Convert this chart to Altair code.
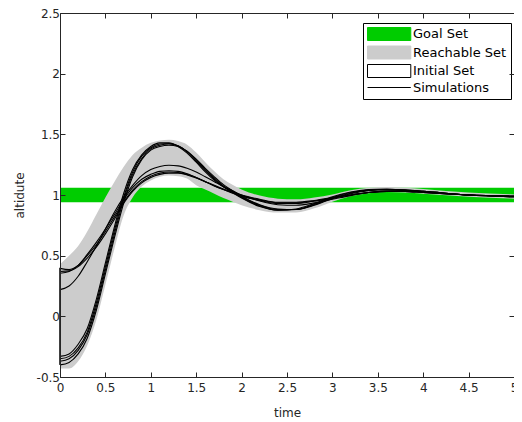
import altair as alt
import pandas as pd

# ---------------- data ----------------
T = [0, 0.1, 0.2, 0.3, 0.4, 0.5, 0.6, 0.7, 0.8, 0.9, 1.0, 1.1, 1.2, 1.3, 1.4, 1.5,
     1.6, 1.7, 1.8, 1.9, 2.0, 2.2, 2.4, 2.6, 2.8, 3.0, 3.2, 3.4, 3.6, 3.8, 4.0, 4.5, 5.0]

A1 = [-0.33, -0.31, -0.23, -0.10, 0.14, 0.44, 0.74, 1.01, 1.21, 1.33, 1.40, 1.43, 1.43, 1.40, 1.345, 1.27,
      1.19, 1.12, 1.065, 1.02, 0.975, 0.905, 0.875, 0.885, 0.93, 0.985, 1.025, 1.045, 1.05, 1.04, 1.03, 1.0, 0.985]
A2 = [-0.35, -0.33, -0.26, -0.13, 0.11, 0.41, 0.71, 0.98, 1.19, 1.32, 1.39, 1.42, 1.425, 1.405, 1.355, 1.28,
      1.20, 1.13, 1.07, 1.025, 0.98, 0.91, 0.875, 0.88, 0.925, 0.98, 1.02, 1.04, 1.045, 1.04, 1.03, 1.0, 0.985]
A3 = [-0.37, -0.35, -0.28, -0.15, 0.08, 0.38, 0.68, 0.96, 1.17, 1.30, 1.38, 1.41, 1.42, 1.405, 1.36, 1.29,
      1.21, 1.14, 1.075, 1.03, 0.985, 0.915, 0.88, 0.88, 0.92, 0.975, 1.015, 1.04, 1.045, 1.04, 1.03, 1.0, 0.985]
A4 = [-0.40, -0.38, -0.31, -0.18, 0.05, 0.35, 0.65, 0.93, 1.15, 1.29, 1.37, 1.40, 1.41, 1.40, 1.36, 1.295,
      1.22, 1.15, 1.085, 1.035, 0.99, 0.92, 0.885, 0.88, 0.915, 0.97, 1.01, 1.035, 1.045, 1.04, 1.03, 1.0, 0.985]
B1 = [0.395, 0.385, 0.42, 0.50, 0.59, 0.70, 0.82, 0.94, 1.04, 1.11, 1.155, 1.18, 1.19, 1.185, 1.17, 1.145,
      1.11, 1.075, 1.045, 1.02, 0.995, 0.96, 0.935, 0.935, 0.95, 0.975, 1.0, 1.02, 1.03, 1.03, 1.02, 1.0, 0.99]
B2 = [0.355, 0.37, 0.42, 0.51, 0.61, 0.72, 0.84, 0.96, 1.06, 1.13, 1.17, 1.195, 1.20, 1.195, 1.175, 1.145,
      1.11, 1.075, 1.045, 1.015, 0.99, 0.955, 0.93, 0.93, 0.95, 0.975, 1.0, 1.02, 1.03, 1.03, 1.02, 1.0, 0.99]
B3 = [0.37, 0.375, 0.41, 0.48, 0.57, 0.68, 0.80, 0.93, 1.03, 1.10, 1.145, 1.17, 1.18, 1.18, 1.165, 1.14,
      1.11, 1.08, 1.05, 1.025, 1.0, 0.965, 0.94, 0.94, 0.955, 0.98, 1.0, 1.02, 1.03, 1.03, 1.02, 1.0, 0.99]
B4 = [0.22, 0.25, 0.33, 0.45, 0.58, 0.72, 0.86, 0.98, 1.08, 1.16, 1.21, 1.235, 1.245, 1.24, 1.22, 1.19,
      1.15, 1.11, 1.07, 1.035, 1.0, 0.95, 0.92, 0.915, 0.935, 0.965, 0.995, 1.02, 1.035, 1.035, 1.025, 1.0, 0.99]

reach_lo = [-0.43, -0.43, -0.37, -0.24, -0.03, 0.26, 0.56, 0.83, 0.98, 1.07, 1.12, 1.15, 1.16, 1.155, 1.135, 1.08,
            1.045, 1.01, 0.975, 0.945, 0.915, 0.875, 0.855, 0.855, 0.89, 0.945, 0.99, 1.015, 1.025, 1.02, 1.01, 0.985, 0.97]
reach_hi = [0.43, 0.50, 0.58, 0.70, 0.84, 0.98, 1.11, 1.23, 1.33, 1.39, 1.43, 1.45, 1.455, 1.445, 1.415, 1.35,
            1.27, 1.195, 1.13, 1.085, 1.045, 0.995, 0.97, 0.965, 0.98, 1.005, 1.04, 1.06, 1.065, 1.06, 1.05, 1.02, 1.005]

goal_lo, goal_hi = 0.94, 1.06
init_lo, init_hi = -0.4, 0.4
t_start, t_end = 0, 5

x_ticks = [0, 0.5, 1, 1.5, 2, 2.5, 3, 3.5, 4, 4.5, 5]
y_ticks = [-0.5, 0, 0.5, 1, 1.5, 2, 2.5]

legend_names = ["Goal Set", "Reachable Set", "Initial Set", "Simulations"]
legend_fill = ["#00cc00", "#cccccc", "#ffffff", "#000000"]
legend_stroke = ["#00cc00", "#cccccc", "#000000", "#000000"]
legend_shape = ["M-1,-1H5.66V1H-1Z", "M-1,-1H5.66V1H-1Z", "M-1,-1H5.66V1H-1Z", "M-1,0H5.66"]

# ---------------- tables ----------------
runs = {"A1": A1, "A2": A2, "A3": A3, "A4": A4, "B1": B1, "B2": B2, "B3": B3, "B4": B4}
sim_df = pd.DataFrame([{"t": t, "y": v, "run": k} for k, vals in runs.items() for t, v in zip(T, vals)])
reach_df = pd.DataFrame({"t": T, "lo": reach_lo, "hi": reach_hi})
goal_df = pd.DataFrame({"x0": [t_start], "x1": [t_end], "lo": [goal_lo], "hi": [goal_hi]})
init_df = pd.DataFrame({"t": [t_start], "lo": [init_lo], "hi": [init_hi]})
legend_df = pd.DataFrame({"name": legend_names, "t": [None] * 4, "y": [None] * 4})

AX = "#262626"
FONT = "DejaVu Sans"
W, H = 454, 364
xs = alt.Scale(domain=[0, 5], nice=False, zero=False)
ys = alt.Scale(domain=[-0.5, 2.5], nice=False, zero=False)

common = dict(tickSize={"expr": "-5"}, tickColor=AX, tickWidth=1, domainColor=AX, domainWidth=1,
              grid=False, zindex=1, labelFont=FONT, labelFontSize=12, labelColor=AX,
              labelFlush=False, labelOverlap=False, labelBound=False,
              titleFont=FONT, titleFontSize=12, titleColor=AX, titleFontWeight="normal")

axis_bottom = alt.Axis(orient="bottom", values=x_ticks, labelPadding=10, labelExpr="'' + datum.value",
                       title="time", titleX=W / 2, titleY=39, titleBaseline="alphabetic", titleAlign="center", **common)
axis_left = alt.Axis(orient="left", values=y_ticks, labelPadding=5.5, labelExpr="'' + datum.value",
                     title="altidute", titleX=-37, titleY=H / 2, titleAngle=270, titleBaseline="alphabetic",
                     titleAlign="center", **common)
axis_top = alt.Axis(orient="top", values=x_ticks, labels=False, title=None, **common)
axis_right = alt.Axis(orient="right", values=y_ticks, labels=False, title=None, **common)

goal = alt.Chart(goal_df).mark_rect(color="#00cc00").encode(
    x=alt.X("x0:Q", scale=xs, axis=axis_bottom), x2="x1:Q",
    y=alt.Y("lo:Q", scale=ys, axis=axis_left), y2="hi:Q")

reach = alt.Chart(reach_df).mark_area(color="#cccccc", interpolate="monotone").encode(
    x=alt.X("t:Q", scale=xs, axis=axis_top),
    y=alt.Y("lo:Q", scale=ys, axis=axis_right), y2="hi:Q")

init = alt.Chart(init_df).mark_rect(fill="#ffffff", stroke="#000000", strokeWidth=1).encode(
    x=alt.X("t:Q", scale=xs, axis=None), x2="t:Q",
    y=alt.Y("lo:Q", scale=ys, axis=None), y2="hi:Q")

sims = alt.Chart(sim_df).mark_line(color="#000000", strokeWidth=1.1, interpolate="monotone").encode(
    x=alt.X("t:Q", scale=xs, axis=None),
    y=alt.Y("y:Q", scale=ys, axis=None),
    detail="run:N")

leg = alt.Legend(title=None, orient="none", legendX=303, legendY=10, strokeColor="#000000",
                 fillColor="#ffffff", padding=4, symbolSize=169, symbolStrokeWidth=1, symbolOpacity=1,
                 labelOffset=32, rowPadding=0.5, labelFont=FONT, labelFontSize=13,
                 labelColor="#000000", labelLimit=300)

legend_layer = alt.Chart(legend_df).mark_point(filled=True, size=169, strokeWidth=1, opacity=1).encode(
    x=alt.X("t:Q", scale=xs, axis=None),
    y=alt.Y("y:Q", scale=ys, axis=None),
    fill=alt.Fill("name:N", scale=alt.Scale(domain=legend_names, range=legend_fill), legend=leg),
    stroke=alt.Stroke("name:N", scale=alt.Scale(domain=legend_names, range=legend_stroke), legend=leg),
    shape=alt.Shape("name:N", scale=alt.Scale(domain=legend_names, range=legend_shape), legend=leg))

chart = alt.layer(goal, reach, init, sims, legend_layer).properties(
    width=W, height=H,
    autosize=alt.AutoSizeParams(type="none"),
    padding={"left": 52, "top": 5, "right": 0, "bottom": 44},
    background="#ffffff",
).configure_view(stroke="transparent")

chart.save("out.html", embed_options={"renderer": "svg", "actions": False})
